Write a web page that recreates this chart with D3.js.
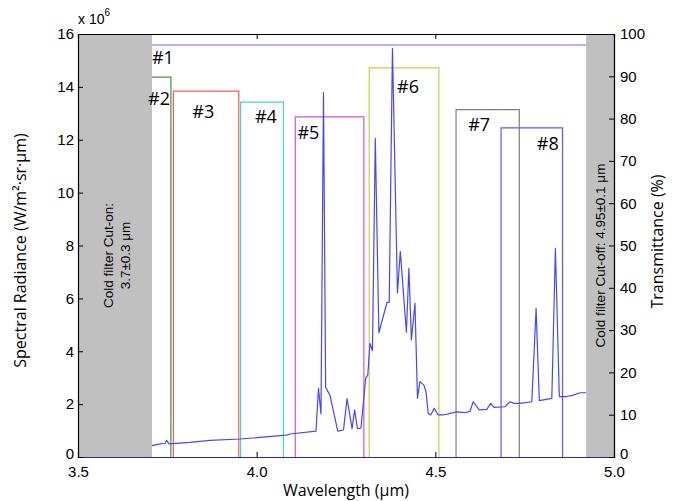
<!DOCTYPE html>
<html>
<head>
<meta charset="utf-8">
<script src="https://cdn.jsdelivr.net/npm/d3@7"></script>
<style>
  body { margin: 0; background: #fff; }
  text { fill: #000; }
</style>
</head>
<body>
<svg id="chart" width="673" height="501"></svg>
<script>
// spectrum (wavelength in um, radiance in 1e6 W/m2.sr.um)
const specWl = [3.707, 3.722, 3.744, 3.748, 3.755, 3.813, 3.869, 3.953, 4.009, 4.084, 4.093, 4.166,
  4.173, 4.180, 4.187, 4.193, 4.205, 4.227, 4.243, 4.253, 4.267, 4.274, 4.282, 4.292, 4.305, 4.311,
  4.317, 4.324, 4.332, 4.342, 4.359, 4.365, 4.371, 4.380, 4.394, 4.402, 4.419, 4.426, 4.433, 4.443,
  4.450, 4.457, 4.468, 4.474, 4.480, 4.487, 4.497, 4.508, 4.522, 4.560, 4.583, 4.597, 4.606, 4.623,
  4.644, 4.655, 4.664, 4.695, 4.709, 4.720, 4.737, 4.770, 4.782, 4.791, 4.826, 4.836, 4.847, 4.866,
  4.886, 4.905, 4.922];
const specVal = [0.43, 0.48, 0.52, 0.63, 0.50, 0.55, 0.63, 0.68, 0.74, 0.83, 0.87, 0.98,
  2.60, 1.63, 13.78, 2.64, 2.34, 0.98, 1.02, 2.21, 1.07, 1.78, 1.07, 1.10, 2.98, 3.10,
  4.30, 4.02, 12.05, 4.70, 5.56, 5.85, 5.85, 15.46, 6.21, 7.77, 4.72, 7.14, 4.43, 5.81,
  2.22, 2.85, 2.72, 2.47, 1.65, 1.59, 1.84, 1.59, 1.59, 1.71, 1.68, 1.73, 2.09, 1.78,
  1.80, 2.03, 1.88, 1.90, 2.09, 2.03, 2.03, 2.09, 5.62, 2.13, 2.22, 7.89, 2.28, 2.28,
  2.34, 2.43, 2.43];

// band-pass filters (transmittance %)
const filterNames = ["#1", "#2", "#3", "#4", "#5", "#6", "#7", "#8"];
const filterLeft  = [3.60, 3.65, 3.767, 3.955, 4.108, 4.315, 4.558, 4.684];
const filterRight = [4.95, 3.760, 3.950, 4.075, 4.300, 4.510, 4.735, 4.856];
const filterTop   = [97.4, 89.8, 86.5, 83.9, 80.4, 92.0, 82.1, 77.8];
const filterColors = ["#6b6bff", "#3a9a3a", "#ff5a5a", "#44d4d4", "#d255d2", "#cfcf3a", "#808080", "#5a5aff"];
// label anchors (wavelength, transmittance)
const labelWl = [3.707, 3.696, 3.820, 3.995, 4.114, 4.393, 4.592, 4.784];
const labelT  = [92.9, 83.1, 80.1, 78.9, 75.2, 86.1, 77.1, 72.6];

const cutOn = 3.707, cutOff = 4.922;

const W = 673, H = 501;
const m = { left: 78, right: 59, top: 34, bottom: 44 };
const iw = W - m.left - m.right, ih = H - m.top - m.bottom;

const svg = d3.select("#chart");
const g = svg.append("g").attr("transform", `translate(${m.left},${m.top})`);

const x = d3.scaleLinear().domain([3.5, 5.0]).range([0, iw]);
const yL = d3.scaleLinear().domain([0, 16]).range([ih, 0]);
const yR = d3.scaleLinear().domain([0, 100]).range([ih, 0]);

const tickFont = "Liberation Sans, Arial, sans-serif";
const titleFont = "Open Sans, Lato, sans-serif";

// filters
filterNames.forEach((n, i) => {
  const p = d3.path();
  p.moveTo(x(filterLeft[i]), yR(0));
  p.lineTo(x(filterLeft[i]), yR(filterTop[i]));
  p.lineTo(x(filterRight[i]), yR(filterTop[i]));
  p.lineTo(x(filterRight[i]), yR(0));
  g.append("path").attr("d", p.toString())
    .attr("fill", "none").attr("stroke", filterColors[i]).attr("stroke-width", 1.2);
});

// spectrum
const line = d3.line().x((d, i) => x(specWl[i])).y(d => yL(d));
g.append("path").datum(specVal)
  .attr("fill", "none").attr("stroke", "#4646ff").attr("stroke-width", 1.2)
  .attr("stroke-linejoin", "round").attr("d", line);

// cold filter bands
g.append("rect").attr("x", x(3.5)).attr("y", 0)
  .attr("width", x(cutOn) - x(3.5)).attr("height", ih).attr("fill", "#c0c0c0");
g.append("rect").attr("x", x(cutOff)).attr("y", 0)
  .attr("width", x(5.0) - x(cutOff)).attr("height", ih).attr("fill", "#c0c0c0");

g.append("text")
  .attr("transform", `translate(${(x(3.5) + x(cutOn)) / 2},${ih / 2 + 10}) rotate(-90)`)
  .attr("text-anchor", "middle").style("font-family", tickFont).style("font-size", "13.5px")
  .selectAll("tspan").data(["Cold filter Cut-on:", "3.7\u00b10.3 \u03bcm"]).join("tspan")
  .attr("x", 0).attr("dy", (d, i) => i === 0 ? "-0.15em" : "1.25em").text(d => d);

g.append("text")
  .attr("transform", `translate(${(x(cutOff) + x(5.0)) / 2 + 5},${ih / 2 + 10}) rotate(-90)`)
  .attr("text-anchor", "middle").style("font-family", tickFont).style("font-size", "13.5px")
  .text("Cold filter Cut-off: 4.95\u00b10.1 \u03bcm");

// filter labels
filterNames.forEach((n, i) => {
  g.append("text").attr("x", x(labelWl[i])).attr("y", yR(labelT[i]))
    .style("font-family", titleFont).style("font-size", "18px").text(n);
});

// axes
const axB = g.append("g").attr("transform", `translate(0,${ih})`)
  .call(d3.axisBottom(x).tickValues([3.5, 4.0, 4.5, 5.0]).tickFormat(d3.format(".1f"))
    .tickSize(-5).tickPadding(9));
const axT = g.append("g")
  .call(d3.axisTop(x).tickValues([3.5, 4.0, 4.5, 5.0]).tickFormat("").tickSize(-5));
const axL = g.append("g")
  .call(d3.axisLeft(yL).tickValues(d3.range(0, 17, 2)).tickSize(-5).tickPadding(4));
const axR = g.append("g").attr("transform", `translate(${iw},0)`)
  .call(d3.axisRight(yR).tickValues(d3.range(0, 101, 10)).tickSize(-5).tickPadding(6));

[axB, axT, axL, axR].forEach(a => {
  a.select(".domain").attr("stroke", "#000").attr("stroke-width", 1.2);
  a.selectAll(".tick line").attr("stroke", "#000");
  a.selectAll("text").style("font-family", tickFont).style("font-size", "15px").attr("fill", "#000");
});
axB.select(".domain").attr("stroke", "#2a2a8a");
// keep the two zero labels clear of the x tick labels
axL.selectAll(".tick").filter(d => d === 0).select("text").attr("dy", "0.1em");
axR.selectAll(".tick").filter(d => d === 0).select("text").attr("dy", "0.1em");

// exponent
const ex = svg.append("text").attr("x", m.left).attr("y", 24)
  .style("font-family", tickFont).style("font-size", "14px");
ex.append("tspan").text("x 10");
ex.append("tspan").attr("dy", -8).style("font-size", "10px").text("6");

// titles
svg.append("text").attr("x", m.left + iw / 2).attr("y", H - 5).attr("text-anchor", "middle")
  .style("font-family", titleFont).style("font-size", "16px").text("Wavelength (\u03bcm)");
svg.append("text").attr("transform", `translate(26,${m.top + ih / 2 + 5}) rotate(-90)`)
  .attr("text-anchor", "middle").style("font-family", titleFont).style("font-size", "16px")
  .text("Spectral Radiance (W/m\u00b2\u00b7sr\u00b7\u03bcm)");
svg.append("text").attr("transform", `translate(663,${m.top + ih / 2 - 4}) rotate(-90)`)
  .attr("text-anchor", "middle").style("font-family", titleFont).style("font-size", "16px")
  .text("Transmittance (%)");
</script>
</body>
</html>
